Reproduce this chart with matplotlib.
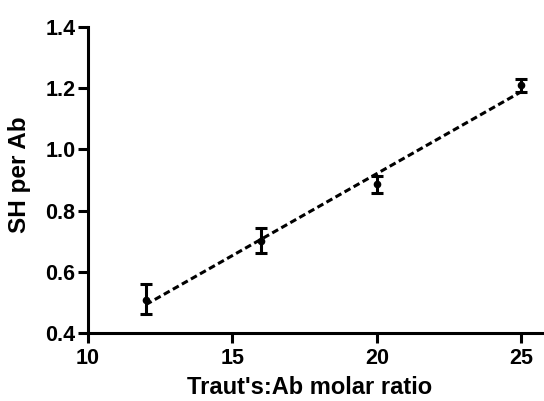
import numpy as np
import matplotlib
matplotlib.use("Agg")
import matplotlib.pyplot as plt

ratio = [12, 16, 20, 25]
sh_per_ab = [0.509, 0.702, 0.886, 1.211]
err_low = [0.048, 0.041, 0.027, 0.024]
err_high = [0.052, 0.041, 0.027, 0.019]
xticks = [10, 15, 20, 25]
yticks = [0.4, 0.6, 0.8, 1.0, 1.2, 1.4]

plt.rcParams['font.family'] = ['Liberation Sans', 'DejaVu Sans']
plt.rcParams['font.weight'] = 'bold'

W, H = 544, 401
fig = plt.figure(figsize=(W/100, H/100), dpi=100)
left, right, top, bottom = 88, 550, 27, 333
ax = fig.add_axes([left/W, 1 - bottom/H, (right-left)/W, (bottom-top)/H])

slope, intercept = np.polyfit(ratio, sh_per_ab, 1)
xs = np.array([ratio[0], ratio[-1]])
ax.plot(xs, slope*xs + intercept, color='black', lw=2.2, ls=(0, (2.2, 1.2)), zorder=2)

ax.errorbar(ratio, sh_per_ab, yerr=[err_low, err_high], fmt='o', color='black',
            ms=4.5, elinewidth=2.2, capsize=4.5, capthick=2.2, zorder=3)

ax.set_xlim(10, 26)
ax.set_ylim(0.4, 1.4)
ax.set_xticks(xticks)
ax.set_yticks(yticks)
ax.set_yticklabels([f"{v:.1f}" for v in yticks])
for s in ['top', 'right']:
    ax.spines[s].set_visible(False)
for s in ['left', 'bottom']:
    ax.spines[s].set_linewidth(2.2)
ax.tick_params(width=2.2, length=7.5, labelsize=15.5)
ax.tick_params(axis='y', pad=1.5)
ax.tick_params(axis='x', pad=3.5)
for lab in ax.get_xticklabels() + ax.get_yticklabels():
    lab.set_fontweight('bold')

ax.set_xlabel("Traut's:Ab molar ratio", fontsize=17, fontweight='bold')
ax.set_ylabel("SH per Ab", fontsize=17.5, fontweight='bold')
ax.xaxis.set_label_coords((310-left)/(right-left), 1 - (388-top)/(bottom-top))
ax.yaxis.set_label_coords((19.5-left)/(right-left), 1 - (175-top)/(bottom-top))
ax.xaxis.label.set_va('center')
ax.yaxis.label.set_va('center')

fig.savefig("out.png", dpi=100)
